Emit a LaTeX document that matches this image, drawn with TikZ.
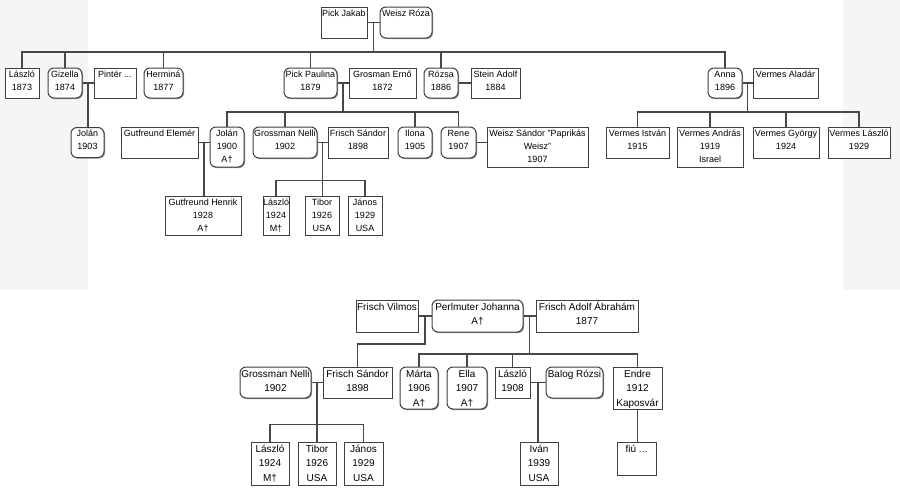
\documentclass[tikz,border=0pt]{standalone}
\usepackage{fontspec}
\setmainfont{Liberation Sans}
\usetikzlibrary{calc,shadows}

%% box content: width, height, lines (text sits at the top)
\newcommand{\card}[3]{\parbox[c][#2pt][t]{#1pt}{\centering\strut #3}}

\tikzset{
  person/.style={draw=black!75, line width=1pt, fill=white, inner sep=0pt,
    drop shadow={shadow xshift=1pt, shadow yshift=-1pt, fill=black!60, opacity=.7},
    font=\fontsize{9}{13}\selectfont},
  man/.style={person},
  woman/.style={person, rounded corners=6pt},
  link/.style={draw=black!72, line width=1.3pt},
}

\begin{document}
\begin{tikzpicture}[x=1pt, y=-1pt]
  \useasboundingbox (0,0) rectangle (900,493);
  \fill[white] (0,0) rectangle (900,493);
  %% light bands behind the upper tree
  \fill[black!4] (0,0) rectangle (88,290);
  \fill[black!4] (843,0) rectangle (900,290);

  %% Upper tree: Pick family
  \node[man]   (jakab)   at (344,22.5)   {\card{46}{31}{Pick Jakab}};
  \node[woman] (roza)    at (406,22.5)   {\card{52}{31}{Weisz Róza}};
  %% children
  \node[man]   (laszlo)  at (22,83)      {\card{34}{30}{László\\1873}};
  \node[woman] (gizella) at (65,83)      {\card{34}{30}{Gizella\\1874}};
  \node[man]   (pinter)  at (115,83)     {\card{42}{30}{Pintér ...}};
  \node[woman] (hermina) at (163.5,83)   {\card{39}{30}{Herminá\\1877}};
  \node[woman] (paulina) at (310.5,83)   {\card{53}{30}{Pick Paulina\\1879}};
  \node[man]   (erno)    at (382.5,83)   {\card{67}{30}{Grosman Ernő\\1872}};
  \node[woman] (rozsa)   at (441,83)     {\card{34}{30}{Rózsa\\1886}};
  \node[man]   (stein)   at (495.5,83)   {\card{49}{30}{Stein Adolf\\1884}};
  \node[woman] (anna)    at (725,83)     {\card{34}{30}{Anna\\1896}};
  \node[man]   (aladar)  at (785.5,83)   {\card{65}{30}{Vermes Aladár}};
  %% grandchildren
  \node[woman] (jolanB)  at (87.5,142.5) {\card{33}{30}{Jolán\\1903}};
  \node[man]   (elemer)  at (159.5,142.5){\card{77}{31}{Gutfreund Elemér}};
  \node[woman] (jolanA)  at (227,147)    {\card{34}{40}{Jolán\\1900\\A†}};
  \node[woman] (nelli)   at (285,142.5)  {\card{64}{31}{Grossman Nelli\\1902}};
  \node[man]   (sandor)  at (358,142.5)  {\card{60}{31}{Frisch Sándor\\1898}};
  \node[woman] (ilona)   at (415,142.5)  {\card{34}{31}{Ilona\\1905}};
  \node[woman] (rene)    at (458.5,142.5){\card{35}{31}{Rene\\1907}};
  \node[man]   (weisz)   at (537.5,147)  {\card{101}{40}{Weisz Sándor "Paprikás\\Weisz"\\1907}};
  \node[man]   (istvan)  at (637.5,142.5){\card{63}{31}{Vermes István\\1915}};
  \node[man]   (andras)  at (710,147)    {\card{66}{40}{Vermes András\\1919\\Israel}};
  \node[man]   (gyorgy)  at (786,142.5)  {\card{66}{31}{Vermes György\\1924}};
  \node[man]   (laszloV) at (859,142.5)  {\card{62}{31}{Vermes László\\1929}};
  %% great-grandchildren
  \node[man]   (henrik)  at (203,215.5)  {\card{76}{39}{Gutfreund Henrik\\1928\\A†}};
  \node[man]   (laszloF) at (276,215.5)  {\card{26}{39}{László\\1924\\M†}};
  \node[man]   (tibor)   at (322,215.5)  {\card{34}{39}{Tibor\\1926\\USA}};
  \node[man]   (janos)   at (365,215.5)  {\card{34}{39}{János\\1929\\USA}};

  %% Connectors
  \draw[link] (jakab) -- (roza);
  \coordinate (jr) at ($(jakab.east)!.5!(roza.west)$);
  \draw[link] (jr) -- ++(0,29.5) coordinate (jrbus);
  \draw[link] (laszlo.north) |- (jrbus) -| (anna.north);
  \foreach \c in {gizella,hermina,paulina,rozsa}
    \draw[link] (\c.north) -- (\c.north |- jrbus);
  \draw[link] (gizella) -- (pinter);
  \coordinate (gp) at ($(gizella.east)!.5!(pinter.west)$);
  \draw[link] (gp) -- (gp |- jolanB.north);
  \draw[link] (paulina) -- (erno);
  \coordinate (pe) at ($(paulina.east)!.5!(erno.west)$);
  \draw[link] (pe) -- ++(0,29) coordinate (pebus);
  \draw[link] (jolanA.north) |- (pebus) -| (rene.north);
  \foreach \c in {nelli,ilona}
    \draw[link] (\c.north) -- (\c.north |- pebus);
  \draw[link] (rozsa) -- (stein);
  \draw[link] (anna) -- (aladar);
  \coordinate (aa) at ($(anna.east)!.5!(aladar.west)$);
  \draw[link] (aa) -- ++(0,29) coordinate (aabus);
  \draw[link] (istvan.north) |- (aabus) -| (laszloV.north);
  \foreach \c in {andras,gyorgy}
    \draw[link] (\c.north) -- (\c.north |- aabus);
  \draw[link] (elemer.east) -- (elemer.east -| jolanA.west);
  \coordinate (ej) at ($(elemer.east)!.5!(elemer.east -| jolanA.west)$);
  \draw[link] (ej) -- (ej |- henrik.north);
  \draw[link] (nelli) -- (sandor);
  \coordinate (ns) at ($(nelli.east)!.5!(sandor.west)$);
  \draw[link] (ns) -- (ns |- tibor.north);
  \draw[link] (laszloF.north) -- ++(0,-15) -| (janos.north);
  \draw[link] (rene.east) -- (rene.east -| weisz.west);

  %% Lower tree: Frisch family
  \begin{scope}[person/.append style={font=\fontsize{10}{14.5}\selectfont}]
    \node[man]   (vilmos)  at (387,316)     {\card{62}{32}{Frisch Vilmos}};
    \node[woman] (johanna) at (477.5,316)   {\card{91}{32}{Perlmuter Johanna\\A†}};
    \node[man]   (adolf)   at (587,316)     {\card{102}{32}{Frisch Adolf Ábrahám\\1877}};
    \node[woman] (nelliB)  at (275.5,382.5) {\card{71}{31}{Grossman Nelli\\1902}};
    \node[man]   (sandorB) at (357.5,382.5) {\card{69}{31}{Frisch Sándor\\1898}};
    \node[woman] (marta)   at (419,388)     {\card{38}{42}{Márta\\1906\\A†}};
    \node[woman] (ella)    at (467,388)     {\card{40}{42}{Ella\\1907\\A†}};
    \node[man]   (laszloB) at (512.5,382.5) {\card{35}{31}{László\\1908}};
    \node[woman] (balog)   at (574.5,382.5) {\card{57}{31}{Balog Rózsi}};
    \node[man]   (endre)   at (637.5,388)   {\card{49}{42}{Endre\\1912\\Kaposvár}};
    \node[man]   (laszloC) at (270,463.5)   {\card{38}{43}{László\\1924\\M†}};
    \node[man]   (tiborB)  at (317,463.5)   {\card{38}{43}{Tibor\\1926\\USA}};
    \node[man]   (janosB)  at (363.5,463.5) {\card{39}{43}{János\\1929\\USA}};
    \node[man]   (ivan)    at (539,463.5)   {\card{38}{43}{Iván\\1939\\USA}};
    \node[man]   (fiu)     at (636.5,458.5) {\card{39}{33}{fiú ...}};
  \end{scope}

  %% Connectors
  \draw[link] (vilmos) -- (johanna);
  \coordinate (vj) at ($(vilmos.east)!.5!(johanna.west)$);
  \draw[link] (vj) -- ++(0,28) -| (sandorB.north);
  \draw[link] (johanna) -- (adolf);
  \coordinate (ja) at ($(johanna.east)!.5!(adolf.west)$);
  \draw[link] (ja) -- ++(0,38) coordinate (jabus);
  \draw[link] (marta.north) |- (jabus) -| (endre.north);
  \foreach \c in {ella,laszloB}
    \draw[link] (\c.north) -- (\c.north |- jabus);
  \draw[link] (nelliB) -- (sandorB);
  \coordinate (nsB) at ($(nelliB.east)!.5!(sandorB.west)$);
  \draw[link] (nsB) -- (nsB |- tiborB.north);
  \draw[link] (laszloC.north) -- ++(0,-17) -| (janosB.north);
  \draw[link] (laszloB) -- (balog);
  \coordinate (lb) at ($(laszloB.east)!.5!(balog.west)$);
  \draw[link] (lb) -- (lb |- ivan.north);
  \draw[link] (endre.south) -- (endre.south |- fiu.north);
\end{tikzpicture}
\end{document}
